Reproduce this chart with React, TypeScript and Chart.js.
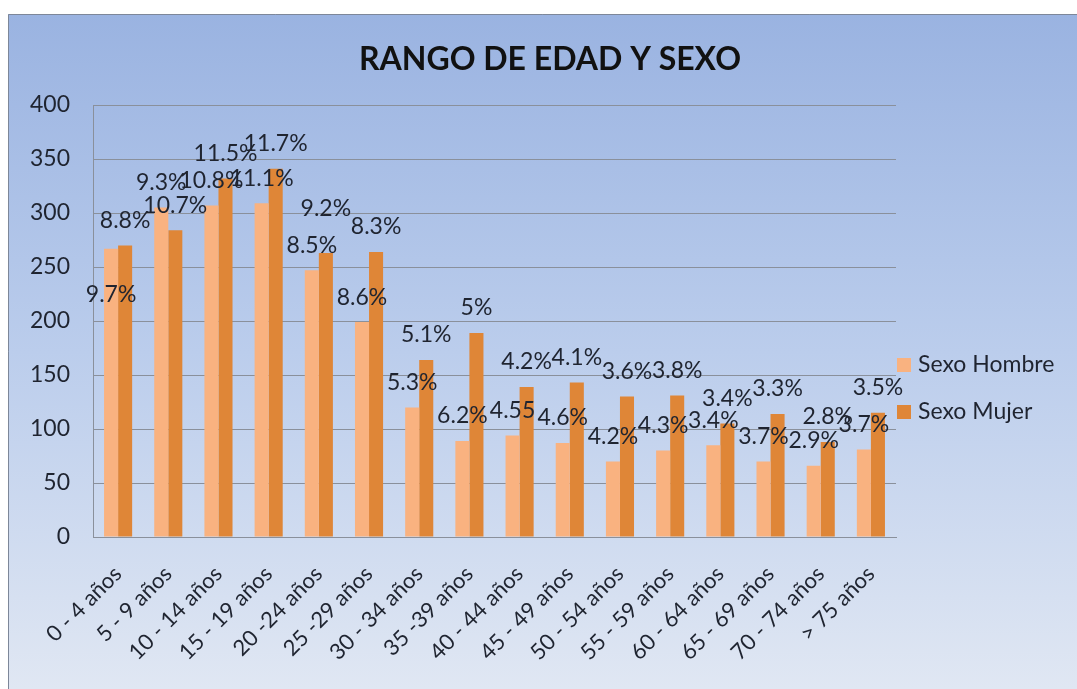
import { useEffect, useRef } from "react";
import { Chart, registerables } from "chart.js";

Chart.register(...registerables);

const categories = [
  "0 - 4 años", "5 - 9 años", "10 - 14 años", "15 - 19 años", "20 -24 años", "25 -29 años",
  "30 - 34 años", "35 -39 años", "40 - 44 años", "45 - 49 años", "50 - 54 años", "55 - 59 años",
  "60 - 64 años", "65 - 69 años", "70 - 74 años", "> 75 años",
];
const hombre = [267, 305, 307, 309, 247, 199, 120, 89, 94, 87, 70, 80, 85, 70, 66, 81];
const mujer = [270, 284, 332, 341, 263, 264, 164, 189, 139, 143, 130, 131, 105, 114, 88, 115];
const hombreLabels = ["9.7%", "9.3%", "10.8%", "11.1%", "8.5%", "8.6%", "5.3%", "6.2%", "4.55", "4.6%", "4.2%", "4.3%", "3.4%", "3.7%", "2.9%", "3.7%"];
const mujerLabels = ["8.8%", "10.7%", "11.5%", "11.7%", "9.2%", "8.3%", "5.1%", "5%", "4.2%", "4.1%", "3.6%", "3.8%", "3.4%", "3.3%", "2.8%", "3.5%"];
const seriesNames = ["Sexo Hombre", "Sexo Mujer"];
const titleText = "RANGO DE EDAD Y SEXO";
const yMin = 0;
const yMax = 400;
const yStep = 50;

const FONT = "Lato, 'Open Sans', sans-serif";
const TEXT = "#1f2430";
const GRID = "#8a909b";

export default function App() {
  const ref = useRef<HTMLCanvasElement>(null);

  useEffect(() => {
    if (!ref.current) return;

    const bgPlugin = {
      id: "bgPlugin",
      beforeDraw(chart: any) {
        const { ctx, width, height } = chart;
        ctx.save();
        const g = ctx.createLinearGradient(0, 0, 0, height);
        g.addColorStop(0, "#9ab3e1");
        g.addColorStop(0.5, "#bbcdec");
        g.addColorStop(1, "#e0e7f3");
        ctx.fillStyle = g;
        ctx.fillRect(0, 0, width, height);
        ctx.strokeStyle = "#7d8799";
        ctx.lineWidth = 1;
        ctx.beginPath();
        ctx.moveTo(0.5, height);
        ctx.lineTo(0.5, 0.5);
        ctx.lineTo(width, 0.5);
        ctx.stroke();
        ctx.restore();
      },
    };

    const titlePlugin = {
      id: "titlePlugin",
      afterDraw(chart: any) {
        const { ctx } = chart;
        ctx.save();
        ctx.font = `bold 32px ${FONT}`;
        ctx.fillStyle = "#111";
        ctx.textAlign = "center";
        ctx.textBaseline = "middle";
        ctx.fillText(titleText, 542, 46);
        ctx.restore();
      },
    };

    const legendPlugin = {
      id: "legendPlugin",
      afterDraw(chart: any) {
        const { ctx, chartArea } = chart;
        ctx.save();
        ctx.font = `23px ${FONT}`;
        ctx.textBaseline = "middle";
        ctx.textAlign = "left";
        chart.data.datasets.forEach((ds: any, i: number) => {
          const cy = 351 + i * 47;
          const x0 = chartArea.right + 1;
          ctx.fillStyle = ds.backgroundColor;
          ctx.fillRect(x0, cy - 7, 14, 14);
          ctx.fillStyle = TEXT;
          ctx.fillText(ds.label, x0 + 21, cy);
        });
        ctx.restore();
      },
    };

    const labelPlugin = {
      id: "labelPlugin",
      afterDatasetsDraw(chart: any) {
        const { ctx } = chart;
        const labelSets = [hombreLabels, mujerLabels];
        const mh = chart.getDatasetMeta(0).data;
        const mm = chart.getDatasetMeta(1).data;
        ctx.save();
        ctx.font = `23px ${FONT}`;
        ctx.fillStyle = TEXT;
        ctx.textAlign = "center";
        ctx.textBaseline = "middle";
        for (let j = 0; j < categories.length; j++) {
          const bars = [mh[j], mm[j]];
          const ys = bars.map((b: any) => b.y - 25);
          if (Math.abs(ys[0] - ys[1]) < 20) {
            const high = bars[0].y < bars[1].y ? 0 : 1;
            const low = 1 - high;
            if (Math.abs(bars[0].y - bars[1].y) > 10) {
              ys[high] = ys[low] - 37;
            } else {
              ys[low] = bars[low].y + 46;
            }
          }
          for (let s = 0; s < 2; s++) {
            ctx.fillText(labelSets[s][j], bars[s].x, ys[s]);
          }
        }
        ctx.restore();
      },
    };

    const chart = new Chart(ref.current, {
      type: "bar",
      data: {
        labels: categories,
        datasets: [
          {
            label: seriesNames[0],
            data: hombre,
            backgroundColor: "#f9b280",
            categoryPercentage: 0.56,
            barPercentage: 1,
          },
          {
            label: seriesNames[1],
            data: mujer,
            backgroundColor: "#df8637",
            categoryPercentage: 0.56,
            barPercentage: 1,
          },
        ],
      },
      options: {
        responsive: false,
        animation: false,
        devicePixelRatio: 1,
        layout: { padding: { top: 91, right: 181, bottom: 0, left: 0 } },
        plugins: {
          legend: { display: false },
          title: { display: false },
          tooltip: { enabled: false },
        },
        scales: {
          x: {
            grid: { display: false, drawTicks: false },
            border: { display: true, color: GRID, width: 1 },
            ticks: {
              font: { family: FONT, size: 22 },
              color: TEXT,
              maxRotation: 45,
              minRotation: 45,
              autoSkip: false,
              padding: 24,
            },
            afterFit(scale: any) {
              scale.height = 152;
            },
          },
          y: {
            min: yMin,
            max: yMax,
            ticks: {
              stepSize: yStep,
              font: { family: FONT, size: 23 },
              color: TEXT,
              padding: 23,
            },
            grid: { color: GRID, lineWidth: 1, drawTicks: false },
            border: { display: true, color: GRID, width: 1 },
            afterFit(scale: any) {
              scale.width = 85;
            },
          },
        },
      },
      plugins: [bgPlugin, labelPlugin, titlePlugin, legendPlugin],
    } as any);

    return () => chart.destroy();
  }, []);

  return (
    <div style={{ position: "absolute", left: 8, top: 14, width: 1069, height: 675 }}>
      <canvas ref={ref} width={1069} height={675} style={{ display: "block", width: 1069, height: 675 }} />
    </div>
  );
}
